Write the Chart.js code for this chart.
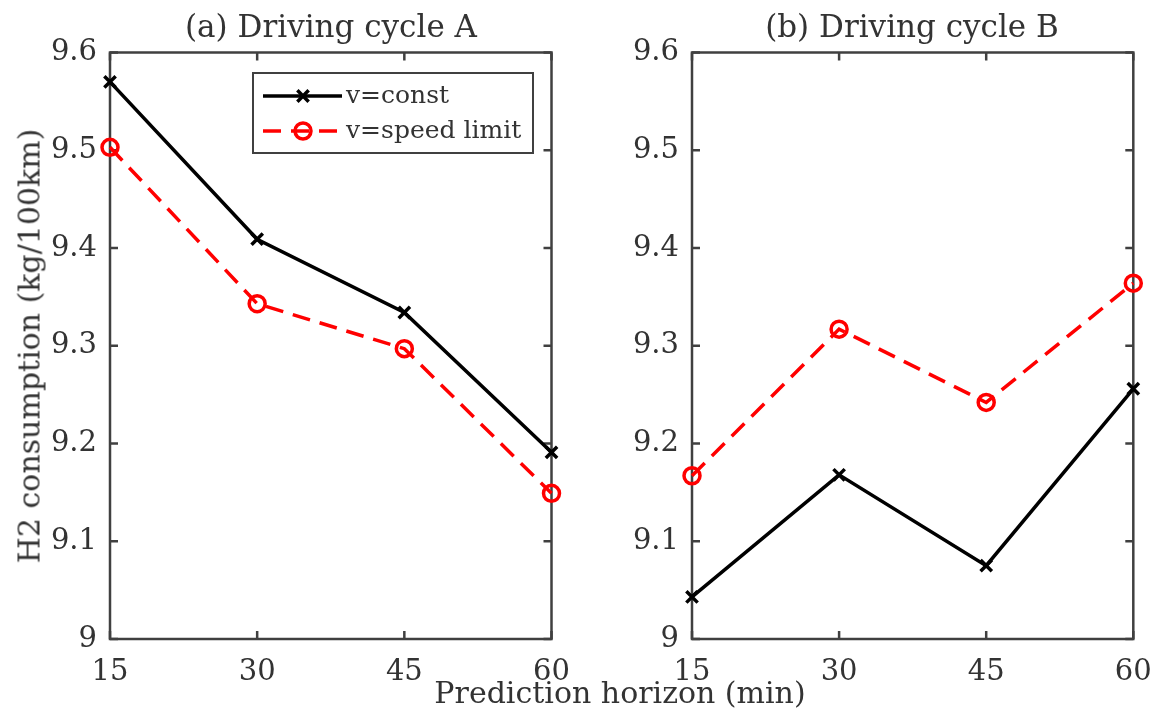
<!DOCTYPE html>
<html>
<head>
<meta charset="utf-8">
<script src="https://cdn.jsdelivr.net/npm/chart.js@4"></script>
<style>
    body { margin: 0; background: #fff; }
    #wrap { position: relative; width: 1156px; height: 713px; overflow: hidden; font-family: "DejaVu Serif", serif; color: #333; }
    canvas { position: absolute; top: 0; }
    .lbl { position: absolute; white-space: nowrap; transform: translate(-50%, -50%); }
    .title { font-size: 31px; top: 26px; }
    #xlabel { font-size: 30px; left: 620px; top: 692px; }
    #ylabel { font-size: 30px; left: 29px; top: 346px; transform: translate(-50%, -50%) rotate(-90deg); }
</style>
</head>
<body>
<div id="wrap">
    <canvas id="chart-a" width="578" height="713" style="left:0"></canvas>
    <canvas id="chart-b" width="578" height="713" style="left:578px"></canvas>
    <div class="lbl title" style="left:331px">(a) Driving cycle A</div>
    <div class="lbl title" style="left:912px">(b) Driving cycle B</div>
    <div class="lbl" id="xlabel">Prediction horizon (min)</div>
    <div class="lbl" id="ylabel">H2 consumption (kg/100km)</div>
</div>
<script>
// Data
const horizons = [15, 30, 45, 60];
const cycleAConst = [9.570, 9.409, 9.334, 9.191];
const cycleASpeed = [9.503, 9.343, 9.297, 9.149];
const cycleBConst = [9.043, 9.168, 9.075, 9.256];
const cycleBSpeed = [9.167, 9.317, 9.242, 9.364];
const yTicks = [9, 9.1, 9.2, 9.3, 9.4, 9.5, 9.6];
const seriesNames = ['v=const', 'v=speed limit'];

const AXIS_COLOR = '#404040';
const TEXT_COLOR = '#333';
const FONT = '"DejaVu Serif", serif';

function points(values) {
    return horizons.map((h, i) => ({ x: h, y: values[i] }));
}

// box with inward ticks on all four sides, like MATLAB
const boxPlugin = {
    id: 'box',
    beforeDatasetsDraw(chart) {
        const { ctx, chartArea: a, scales } = chart;
        const len = 8;
        ctx.save();
        ctx.strokeStyle = AXIS_COLOR;
        ctx.lineWidth = 2.5;
        ctx.strokeRect(a.left, a.top, a.right - a.left, a.bottom - a.top);
        ctx.beginPath();
        scales.x.ticks.forEach(t => {
            const px = scales.x.getPixelForValue(t.value);
            ctx.moveTo(px, a.bottom); ctx.lineTo(px, a.bottom - len);
            ctx.moveTo(px, a.top); ctx.lineTo(px, a.top + len);
        });
        scales.y.ticks.forEach(t => {
            const py = scales.y.getPixelForValue(t.value);
            ctx.moveTo(a.left, py); ctx.lineTo(a.left + len, py);
            ctx.moveTo(a.right, py); ctx.lineTo(a.right - len, py);
        });
        ctx.stroke();
        ctx.restore();
    }
};

// legend box drawn inside the left axes
const legendPlugin = {
    id: 'matlabLegend',
    afterDatasetsDraw(chart, args, opts) {
        if (!opts.show) return;
        const ctx = chart.ctx;
        const x0 = 253, y0 = 73, w = 280, h = 80;
        ctx.save();
        ctx.fillStyle = '#fff';
        ctx.fillRect(x0, y0, w, h);
        ctx.strokeStyle = AXIS_COLOR;
        ctx.lineWidth = 2;
        ctx.strokeRect(x0, y0, w, h);

        const rows = [96, 131];
        chart.data.datasets.forEach((ds, i) => {
            const y = rows[i];
            ctx.strokeStyle = ds.borderColor;
            ctx.lineWidth = ds.borderWidth;
            ctx.setLineDash(ds.borderDash || []);
            ctx.beginPath();
            ctx.moveTo(263, y);
            ctx.lineTo(342, y);
            ctx.stroke();
            ctx.setLineDash([]);
            ctx.fillStyle = 'rgba(0,0,0,0)';
            ctx.strokeStyle = ds.pointBorderColor;
            ctx.lineWidth = ds.pointBorderWidth;
            Chart.helpers.drawPoint(ctx, {
                pointStyle: ds.pointStyle,
                radius: ds.pointRadius,
                borderWidth: ds.pointBorderWidth
            }, 303, y);
            ctx.fillStyle = TEXT_COLOR;
            ctx.font = '25px ' + FONT;
            ctx.textBaseline = 'middle';
            ctx.fillText(ds.label, 346, y);
        });
        ctx.restore();
    }
};

function makeChart(id, constVals, speedVals, plotLeft, plotRight, showLegend) {
    const canvas = document.getElementById(id);
    return new Chart(canvas, {
        type: 'line',
        data: {
            datasets: [{
                label: seriesNames[0],
                data: points(constVals),
                borderColor: '#000',
                borderWidth: 3.5,
                pointStyle: 'crossRot',
                pointRadius: 8,
                pointBorderWidth: 3.5,
                pointBorderColor: '#000',
                pointBackgroundColor: '#000',
                clip: false
            }, {
                label: seriesNames[1],
                data: points(speedVals),
                borderColor: '#ff0000',
                borderWidth: 3.5,
                borderDash: [18, 10],
                pointStyle: 'circle',
                pointRadius: 8,
                pointBorderWidth: 3.5,
                pointBorderColor: '#ff0000',
                pointBackgroundColor: 'rgba(0,0,0,0)',
                clip: false
            }]
        },
        options: {
            responsive: false,
            animation: false,
            layout: { padding: { left: 0, top: 52.5, right: canvas.width - plotRight, bottom: 0 } },
            plugins: {
                legend: { display: false },
                tooltip: { enabled: false },
                matlabLegend: { show: showLegend }
            },
            scales: {
                x: {
                    type: 'linear',
                    min: 15,
                    max: 60,
                    afterBuildTicks: s => { s.ticks = horizons.map(v => ({ value: v })); },
                    afterFit: s => { s.height = 713 - 639; s.paddingLeft = 0; s.paddingRight = 0; },
                    grid: { display: false, drawTicks: false },
                    border: { display: false },
                    ticks: { padding: 16, color: TEXT_COLOR, font: { family: FONT, size: 29 } }
                },
                y: {
                    min: 9,
                    max: 9.6,
                    afterBuildTicks: s => { s.ticks = yTicks.map(v => ({ value: v })); },
                    afterFit: s => { s.width = plotLeft; s.paddingTop = 0; s.paddingBottom = 0; },
                    grid: { display: false, drawTicks: false },
                    border: { display: false },
                    ticks: {
                        padding: 13,
                        color: TEXT_COLOR,
                        font: { family: FONT, size: 29 },
                        callback: v => String(+v.toFixed(1))
                    }
                }
            }
        },
        plugins: [boxPlugin, legendPlugin]
    });
}

makeChart('chart-a', cycleAConst, cycleASpeed, 110, 551.5, true);
makeChart('chart-b', cycleBConst, cycleBSpeed, 692 - 578, 1133.3 - 578, false);
</script>
</body>
</html>
